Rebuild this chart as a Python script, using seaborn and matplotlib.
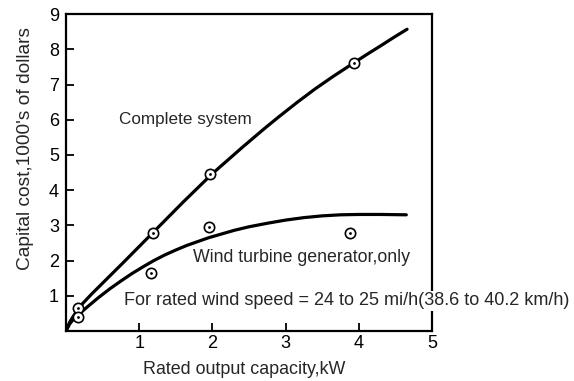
import matplotlib
matplotlib.use("Agg")
import matplotlib.pyplot as plt
import seaborn as sns
import pandas as pd

# Smooth cost curves (kW, thousands of dollars)
complete_x = [0.0, 0.05, 0.1, 0.2, 0.35, 0.5, 0.8, 1.2, 1.6, 2.0, 2.4, 2.7,
              2.9, 3.15, 3.4, 3.65, 3.9, 4.1, 4.3, 4.48, 4.66]
complete_y = [0.0, 0.25, 0.42, 0.72, 1.05, 1.36, 1.98, 2.82, 3.66, 4.47, 5.2, 5.73,
              6.07, 6.48, 6.87, 7.23, 7.57, 7.84, 8.1, 8.34, 8.57]
turbine_x = [0.0, 0.05, 0.1, 0.2, 0.3, 0.45, 0.6, 0.75, 0.9, 1.05, 1.2, 1.35,
             1.5, 1.65, 1.8, 1.95, 2.1, 2.3, 2.5, 2.75, 3.0, 3.25, 3.5, 3.75,
             4.0, 4.3, 4.65]
turbine_y = [0.0, 0.2, 0.33, 0.52, 0.7, 0.96, 1.2, 1.42, 1.63, 1.82, 2.0, 2.16,
             2.3, 2.43, 2.54, 2.65, 2.74, 2.86, 2.96, 3.06, 3.15, 3.22, 3.27, 3.3,
             3.31, 3.31, 3.30]

# Measured points
complete_pts_x = [0.17, 1.19, 1.97, 3.94]
complete_pts_y = [0.65, 2.79, 4.46, 7.60]
turbine_pts_x = [0.17, 1.16, 1.96, 3.88]
turbine_pts_y = [0.41, 1.66, 2.96, 2.78]

x_ticks = [1, 2, 3, 4, 5]
y_ticks = [1, 2, 3, 4, 5, 6, 7, 8, 9]

sns.set_style("ticks")
plt.rcParams["font.family"] = ["Liberation Sans", "DejaVu Sans"]

fig = plt.figure(figsize=(5.74, 3.81), dpi=100)
ax = fig.add_axes([0.115, 0.1312, 0.6375, 0.8318])

curves = pd.concat([
    pd.DataFrame({"x": complete_x, "y": complete_y, "s": "Complete system"}),
    pd.DataFrame({"x": turbine_x, "y": turbine_y, "s": "Wind turbine generator"}),
])
sns.lineplot(data=curves, x="x", y="y", units="s", estimator=None, sort=False,
             color="black", linewidth=2.3, ax=ax, zorder=3,
             solid_joinstyle="round", solid_capstyle="round")

pts = pd.DataFrame({"x": complete_pts_x + turbine_pts_x,
                    "y": complete_pts_y + turbine_pts_y})
sns.scatterplot(data=pts, x="x", y="y", s=55, marker="o", facecolor="white",
                edgecolor="black", linewidth=1.2, ax=ax, zorder=4)
sns.scatterplot(data=pts, x="x", y="y", s=4, marker="o", color="black",
                linewidth=0, ax=ax, zorder=5)

ax.set_xlim(0, 5)
ax.set_ylim(0, 9)
ax.set_xticks(x_ticks)
ax.set_yticks(y_ticks)
ax.tick_params(direction="in", length=6, width=1.3, labelsize=13,
               colors="black")
ax.tick_params(axis="x", pad=3)
ax.tick_params(axis="y", pad=5)
for sp in ax.spines.values():
    sp.set_linewidth(1.6)
    sp.set_color("black")

ax.set_xlabel("")
ax.set_ylabel("")
fig.text(0.044, 0.61, "Capital cost,1000's of dollars", rotation=90,
         ha="center", va="center", fontsize=13.8)
fig.text(0.425, 0.029, "Rated output capacity,kW", ha="center", va="center",
         fontsize=12.9)

ax.text(0.72, 6.0, "Complete system", fontsize=12.3, va="center", ha="left")
ax.text(1.73, 2.1, "Wind turbine generator,only", fontsize=12.8,
        va="center", ha="left")
ax.text(0.79, 0.86, "For rated wind speed = 24 to 25 mi/h(38.6 to 40.2 km/h)",
        fontsize=13, va="center", ha="left", zorder=6, clip_on=False,
        bbox=dict(facecolor="white", edgecolor="none", pad=1))

fig.savefig("out.png", dpi=100, facecolor="white")
